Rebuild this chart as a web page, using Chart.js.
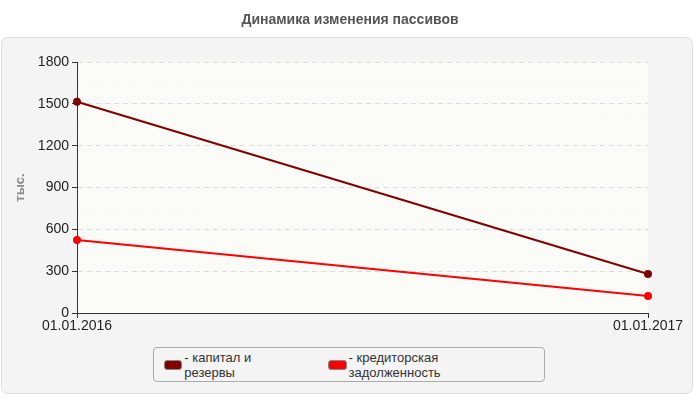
<!DOCTYPE html>
<html><head><meta charset="utf-8">
<script src="https://cdn.jsdelivr.net/npm/chart.js@4"></script>
<style>
body{margin:0;background:#fff;font-family:Arial,"Liberation Sans",sans-serif}
#wrap{position:relative;width:700px;height:400px}
#legend{position:absolute;left:153px;top:347px;width:392px;height:35px;border:1px solid #aaa;border-radius:4px;box-sizing:border-box;font-size:13px;color:#333;display:flex;align-items:center;background:#f4f4f4}
.it{display:flex;align-items:center;margin-left:10px;margin-right:18px}
.sw{width:17px;height:8px;border-radius:3px;margin-right:2px;border:1px solid #888}
</style></head><body>
<div id="wrap"><canvas id="c" width="700" height="400"></canvas>
<div id="legend"></div></div>
<script>
const categories=["01.01.2016","01.01.2017"];
const capital=[1515,280];
const creditors=[523,122];
const seriesNames=["капитал и резервы","кредиторская задолженность"];
const colors=["#800000","#ff0000"];
const yTicks=[0,300,600,900,1200,1500,1800];

const lg=document.getElementById('legend');
seriesNames.forEach((n,i)=>{lg.innerHTML+=`<div class="it"><div class="sw" style="background:${colors[i]}"></div>- ${n}</div>`;});

const bg={id:'bg',beforeDraw(ch){const c=ch.ctx,a=ch.chartArea;c.save();
c.fillStyle='#fff';c.fillRect(0,0,700,400);
c.fillStyle='#555';c.font='bold 14px Arial';c.textAlign='center';c.textBaseline='middle';c.fillText('Динамика изменения пассивов',350,20);
c.fillStyle='#f4f4f4';c.strokeStyle='#ddd';c.beginPath();c.roundRect(1.5,37.5,691,356,6);c.fill();c.stroke();
c.fillStyle='#fdfdf9';c.fillRect(a.left,a.top,a.right-a.left,a.bottom-a.top);
c.beginPath();c.rect(a.left,a.top,a.right-a.left,a.bottom-a.top);c.clip();
c.strokeStyle='rgba(0,0,0,0.035)';c.lineWidth=1;
for(let x=a.left-300;x<a.right;x+=4){c.beginPath();c.moveTo(x,a.bottom);c.lineTo(x+300,a.top);c.stroke();}
c.restore();
c.save();c.fillStyle='#888';c.font='bold 13px Arial';c.translate(20,(a.top+a.bottom)/2);c.rotate(-Math.PI/2);c.textAlign='center';c.textBaseline='middle';c.fillText('тыс.',0,0);c.restore();
}};

new Chart(document.getElementById('c'),{type:'line',
data:{labels:categories,datasets:[
{label:seriesNames[0],data:capital,borderColor:colors[0],backgroundColor:colors[0],borderWidth:2,pointRadius:3,tension:0},
{label:seriesNames[1],data:creditors,borderColor:colors[1],backgroundColor:colors[1],borderWidth:2,pointRadius:3,tension:0}]},
options:{responsive:false,animation:false,
layout:{padding:{left:0,right:52,top:62,bottom:67}},
plugins:{legend:{display:false},title:{display:false},tooltip:{enabled:false}},
scales:{
x:{offset:false,afterFit(s){s.height=20;},grid:{display:true,drawOnChartArea:false,tickLength:5,color:'#333'},border:{color:'#333'},
ticks:{color:'#222',font:{size:14,family:'Arial'},maxRotation:0,padding:0}},
y:{min:0,max:1800,afterBuildTicks(s){s.ticks=yTicks.map(v=>({value:v}));},afterFit(s){s.width=77;},
grid:{color:'#ddd',tickLength:5,tickColor:'#333'},border:{color:'#333',dash:[5,4]},
ticks:{color:'#222',font:{size:14,family:'Arial'},padding:3,callback:v=>String(v)}}}},
plugins:[bg]});
</script></body></html>
